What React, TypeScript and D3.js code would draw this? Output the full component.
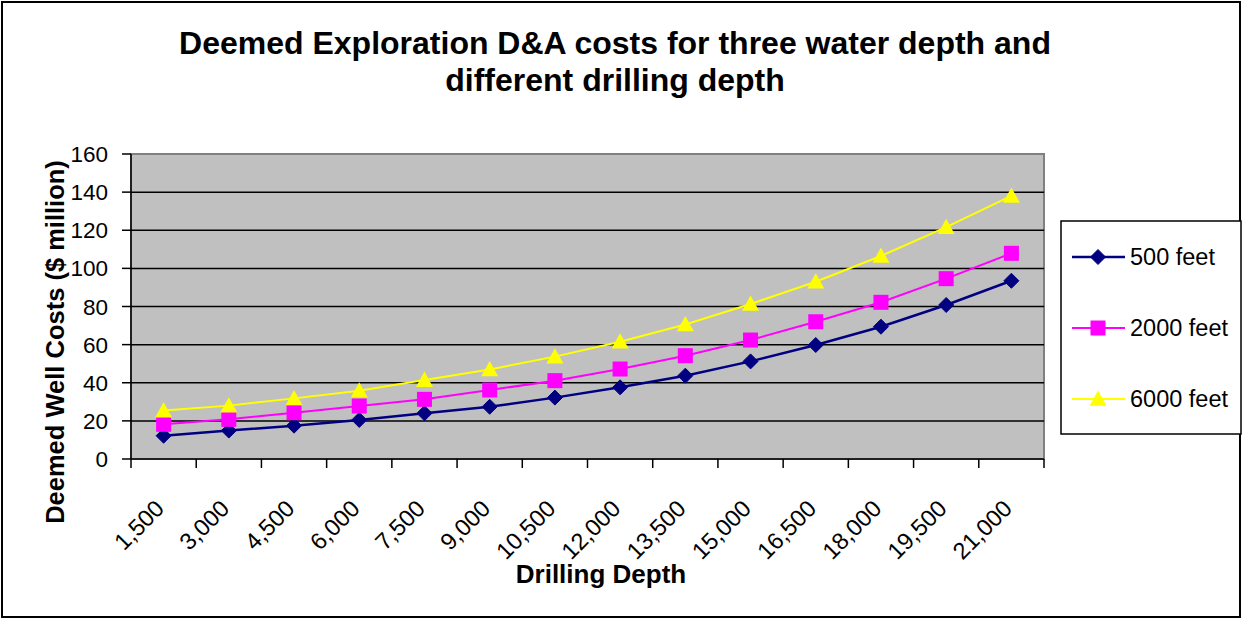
import React from "react";
import * as d3 from "d3";

const categories = ["1,500","3,000","4,500","6,000","7,500","9,000","10,500","12,000","13,500","15,000","16,500","18,000","19,500","21,000"];
const feet500 = [12.2, 14.9, 17.5, 20.5, 24, 27.4, 32.2, 37.6, 43.7, 51.2, 59.8, 69.4, 80.8, 93.5];
const feet2000 = [18.2, 20.8, 24.3, 27.8, 31.3, 36.2, 41.1, 47.2, 54.2, 62.4, 72, 82.2, 94.6, 107.9];
const feet6000 = [25.4, 28, 31.8, 35.8, 41.4, 47, 53.7, 61.5, 70.6, 81.3, 93, 106.5, 121.6, 138];
const yTicks = [0, 20, 40, 60, 80, 100, 120, 140, 160];
const seriesNames = ["500 feet", "2000 feet", "6000 feet"];

const FONT = "'Liberation Sans', Arial, sans-serif";

export default function App() {
  const W = 1242, H = 619;
  const left = 131, right = 1044, top = 154, bottom = 459;
  const x = d3.scaleBand<string>().domain(categories).range([left, right]).padding(0);
  const y = d3.scaleLinear().domain([0, 160]).range([bottom, top]);
  const cx = (c: string) => (x(c) as number) + x.bandwidth() / 2;

  const series = [
    { name: seriesNames[0], values: feet500, color: "#000080", marker: "diamond", width: 2.5 },
    { name: seriesNames[1], values: feet2000, color: "#FF00FF", marker: "square", width: 2 },
    { name: seriesNames[2], values: feet6000, color: "#FFFF00", marker: "triangle", width: 2 },
  ];

  const line = d3.line<number>().x((_, i) => cx(categories[i])).y((v) => y(v));

  const marker = (type: string, px: number, py: number, color: string, key: string) => {
    if (type === "diamond") {
      const s = 7.5;
      return <path key={key} d={`M${px},${py - s}L${px + s},${py}L${px},${py + s}L${px - s},${py}Z`} fill={color} stroke={color} strokeWidth={1} />;
    }
    if (type === "square") {
      const s = 7.5;
      return <rect key={key} x={px - s} y={py - s} width={2 * s} height={2 * s} fill={color} />;
    }
    const s = 8.5;
    return <path key={key} d={`M${px},${py - s}L${px + s},${py + s * 0.8}L${px - s},${py + s * 0.8}Z`} fill={color} />;
  };

  const boundaries = [...categories.map((c) => x(c) as number), right];
  const legendRows = [257, 328, 399];

  return (
    <svg width={W} height={H} style={{ position: "absolute", left: 0, top: 0 }} fontFamily={FONT}>
      <rect x={0} y={0} width={W} height={H} fill="#fff" />
      <rect x={2} y={2} width={W - 4} height={H - 4} fill="#fff" stroke="#000" strokeWidth={2} />

      <text x={615} y={54} textAnchor="middle" fontSize={32} fontWeight="bold">Deemed Exploration D&amp;A costs for three water depth and</text>
      <text x={615} y={91} textAnchor="middle" fontSize={32} fontWeight="bold">different drilling depth</text>

      <rect x={left} y={top} width={right - left} height={bottom - top} fill="#C0C0C0" stroke="#808080" strokeWidth={2} />
      {yTicks.slice(1, -1).map((t) => (
        <line key={"g" + t} x1={left} x2={right} y1={y(t)} y2={y(t)} stroke="#000" strokeWidth={1.5} />
      ))}
      <line x1={left} x2={left} y1={top} y2={bottom} stroke="#000" strokeWidth={1.5} />
      <line x1={left} x2={right} y1={bottom} y2={bottom} stroke="#000" strokeWidth={1.5} />
      {yTicks.map((t) => (
        <g key={"yt" + t}>
          <line x1={left - 9} x2={left} y1={y(t)} y2={y(t)} stroke="#000" strokeWidth={1.5} />
          <text x={108} y={y(t)} dy="0.36em" textAnchor="end" fontSize={22.5}>{t}</text>
        </g>
      ))}
      {boundaries.map((b, i) => (
        <line key={"xt" + i} x1={b} x2={b} y1={bottom} y2={bottom + 9} stroke="#000" strokeWidth={1.5} />
      ))}
      {categories.map((c) => (
        <text key={"xl" + c} transform={`translate(${cx(c) + 2},${510}) rotate(-45)`} textAnchor="end" fontSize={23.5}>{c}</text>
      ))}

      <text x={601} y={583} textAnchor="middle" fontSize={26} fontWeight="bold">Drilling Depth</text>
      <text transform={`translate(64,${342}) rotate(-90)`} textAnchor="middle" fontSize={25.5} fontWeight="bold">Deemed Well Costs ($ million)</text>

      {series.map((s) => (
        <g key={s.name}>
          <path d={line(s.values) || ""} fill="none" stroke={s.color} strokeWidth={s.width} />
          {s.values.map((v, i) => marker(s.marker, cx(categories[i]), y(v), s.color, s.name + i))}
        </g>
      ))}

      <rect x={1061} y={221} width={W - 1061 - 1} height={213} fill="#fff" stroke="#000" strokeWidth={1.5} />
      {series.map((s, i) => (
        <g key={"lg" + s.name}>
          <line x1={1072} x2={1125} y1={legendRows[i]} y2={legendRows[i]} stroke={s.color} strokeWidth={s.width} />
          {marker(s.marker, 1098, legendRows[i], s.color, "lm" + i)}
          <text x={1130} y={legendRows[i]} dy="0.36em" fontSize={23.5}>{s.name}</text>
        </g>
      ))}
    </svg>
  );
}
